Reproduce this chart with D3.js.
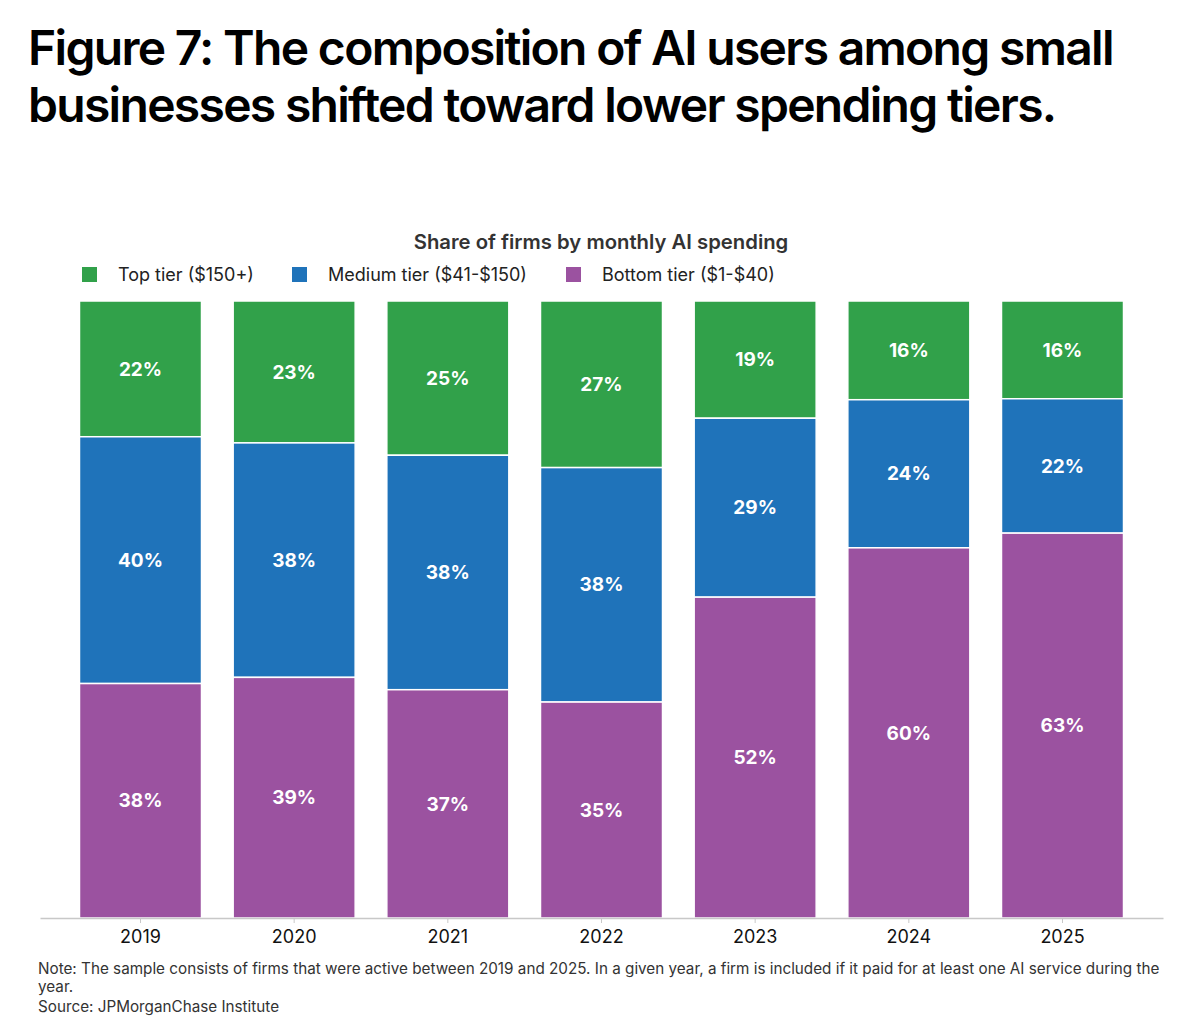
<!DOCTYPE html>
<html>
<head>
<meta charset="utf-8">
<style>
  body { margin: 0; background: #fff; }
  svg { display: block; font-family: Inter, "Noto Sans", sans-serif; }
</style>
</head>
<body>
<svg width="1200" height="1032"></svg>
<script src="https://d3js.org/d3.v7.min.js"></script>
<script>

var years = ["2019", "2020", "2021", "2022", "2023", "2024", "2025"];
var topTier = [22, 23, 25, 27, 19, 16, 16];
var mediumTier = [40, 38, 38, 38, 29, 24, 22];
var bottomTier = [38, 39, 37, 35, 52, 60, 63];

var seriesKeys = ["top", "medium", "bottom"];
var seriesNames = ["Top tier ($150+)", "Medium tier ($41-$150)", "Bottom tier ($1-$40)"];
var seriesColors = ["#31a14a", "#1f73ba", "#9b52a0"];

var rows = years.map(function(y, i) {
    return { year: y, top: topTier[i], medium: mediumTier[i], bottom: bottomTier[i] };
});

var svg = d3.select("svg");

// title
var title = svg.append("text")
    .attr("x", 28)
    .attr("fill", "#000")
    .style("font-size", "48px")
    .style("font-weight", 600)
    .style("letter-spacing", "-1.7px");
title.append("tspan").attr("x", 28).attr("y", 65).text("Figure 7: The composition of AI users among small");
title.append("tspan").attr("x", 28).attr("y", 122).text("businesses shifted toward lower spending tiers.");

svg.append("text")
    .attr("x", 601)
    .attr("y", 249)
    .attr("text-anchor", "middle")
    .attr("fill", "#333")
    .style("font-size", "20.3px")
    .style("font-weight", 600)
    .text("Share of firms by monthly AI spending");

// legend
var legendX = [82, 292, 566];
var legend = svg.append("g").selectAll("g")
    .data(seriesNames)
    .join("g")
    .attr("transform", function(d, i) { return "translate(" + legendX[i] + ",267)"; });
legend.append("rect")
    .attr("width", 15).attr("height", 15)
    .attr("fill", function(d, i) { return seriesColors[i]; });
legend.append("text")
    .attr("x", 36).attr("y", 14)
    .attr("fill", "#222")
    .style("font-size", "18px")
    .text(function(d) { return d; });

var x = d3.scaleBand()
    .domain(years)
    .range([40, 1163])
    .paddingInner(0.206)
    .paddingOuter(0.257);

var y = d3.scaleLinear()
    .domain([0, 1])
    .range([918, 301]);

var stack = d3.stack()
    .keys(seriesKeys)
    .order(d3.stackOrderReverse)
    .offset(d3.stackOffsetExpand);

var layers = stack(rows);

var layer = svg.append("g").selectAll("g")
    .data(layers)
    .join("g")
    .attr("fill", function(d) { return seriesColors[seriesKeys.indexOf(d.key)]; });

layer.selectAll("rect")
    .data(function(d) { return d; })
    .join("rect")
    .attr("x", function(d) { return x(d.data.year); })
    .attr("y", function(d) { return y(d[1]); })
    .attr("width", x.bandwidth())
    .attr("height", function(d) { return y(d[0]) - y(d[1]); })
    .attr("stroke", "#fff")
    .attr("stroke-width", 1.5);

layer.selectAll("text")
    .data(function(d) { return d.map(function(p) { p.key = d.key; return p; }); })
    .join("text")
    .attr("x", function(d) { return x(d.data.year) + x.bandwidth() / 2; })
    .attr("y", function(d) { return (y(d[0]) + y(d[1])) / 2; })
    .attr("dy", "0.35em")
    .attr("text-anchor", "middle")
    .attr("fill", "#fff")
    .style("font-size", "19px")
    .style("font-weight", 700)
    .text(function(d) { return d.data[d.key] + "%"; });

// x axis
var xAxis = svg.append("g")
    .attr("transform", "translate(0,918)")
    .call(d3.axisBottom(x).tickSize(5).tickSizeOuter(0).tickPadding(7));
xAxis.select(".domain").attr("stroke", "#c8c8c8").attr("stroke-width", 1.5);
xAxis.selectAll(".tick line").attr("stroke", "#c8c8c8");
xAxis.selectAll(".tick text")
    .attr("fill", "#111")
    .style("font-family", "Inter, sans-serif")
    .style("font-size", "18px");

// note
var note = svg.append("g")
    .attr("fill", "#333")
    .style("font-size", "15.25px");
note.append("text").attr("x", 38).attr("y", 974)
    .text("Note: The sample consists of firms that were active between 2019 and 2025. In a given year, a firm is included if it paid for at least one AI service during the");
note.append("text").attr("x", 38).attr("y", 992).text("year.");
note.append("text").attr("x", 38).attr("y", 1012).text("Source: JPMorganChase Institute");

</script>
</body>
</html>
